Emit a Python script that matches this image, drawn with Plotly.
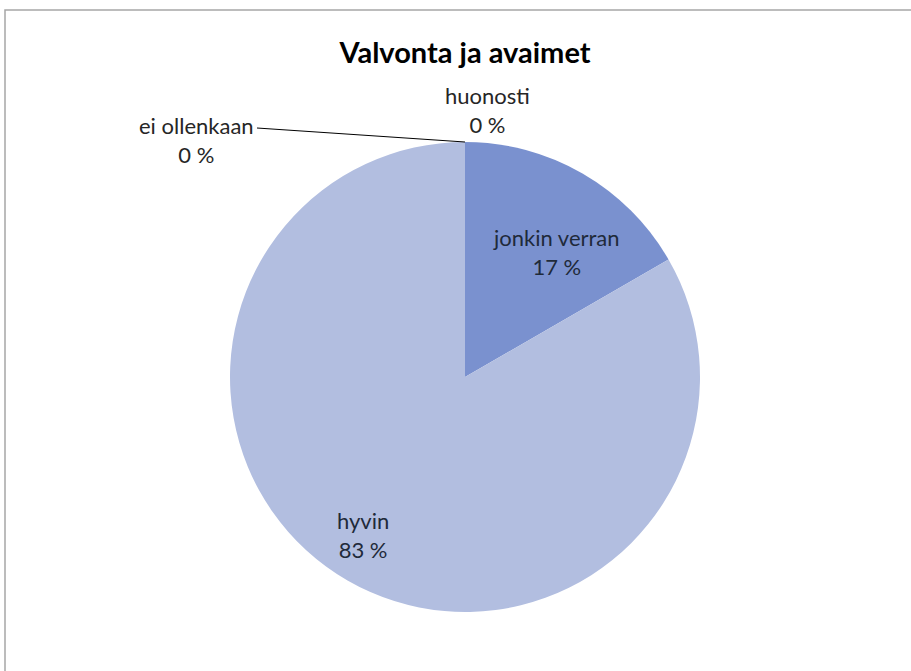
import math
import plotly.graph_objects as go

# Survey answers for "Valvonta ja avaimet"
labels = ["jonkin verran", "hyvin", "ei ollenkaan", "huonosti"]
counts = [1, 5, 0, 0]
colors = ["#7A91CF", "#B2BEE0", "#4F6FBF", "#9AAAD6"]

total = sum(counts)
pct_text = [f"{round(c / total * 100)} %" for c in counts]

W, H = 911, 671
cx, cy, r = 465, 377, 235
dom_x = [(cx - r) / W, (cx + r) / W]
dom_y = [(H - cy - r) / H, (H - cy + r) / H]

FONT = "Lato, Open Sans, sans-serif"
font = dict(family=FONT, size=22, color="#262626")

fig = go.Figure(go.Pie(
    labels=labels,
    values=counts,
    textinfo="none",
    sort=False,
    direction="clockwise",
    rotation=0,
    marker=dict(colors=colors, line=dict(width=0)),
    showlegend=False,
    hoverinfo="label+percent",
    domain=dict(x=dom_x, y=dom_y),
))

# Slice labels placed along each slice's mid-angle (clockwise from 12 o'clock)
label_place = {"jonkin verran": (0.66, 6), "hyvin": (0.80, 3)}
start = 0.0
for lab, c, p in zip(labels, counts, pct_text):
    sweep = c / total * 360
    if c > 0:
        frac, shift = label_place[lab]
        a = math.radians(start + sweep / 2 + shift)
        px = cx + frac * r * math.sin(a)
        py = cy - frac * r * math.cos(a)
        fig.add_annotation(x=px / W, y=(H - py) / H, xref="paper", yref="paper",
                           text=f"{lab}<br>{p}", showarrow=False,
                           xanchor="center", yanchor="middle", align="center",
                           font=dict(family=FONT, size=22, color="#1F2A3A"))
    start += sweep

# Labels of the empty categories at the top of the pie
zero = {l: p for l, p, c in zip(labels, pct_text, counts) if c == 0}
top_y = (H - cy + r) / H
fig.add_shape(type="line", xref="paper", yref="paper",
              x0=257 / W, y0=(H - 128) / H, x1=cx / W, y1=top_y,
              line=dict(color="#000000", width=1))
fig.add_annotation(
    x=256 / W, y=(H - 140) / H, xref="paper", yref="paper",
    text=f"ei ollenkaan<br>{zero['ei ollenkaan']}", showarrow=False,
    xanchor="right", yanchor="middle", align="center", font=font,
)
fig.add_annotation(
    x=487 / W, y=(H - 110) / H, xref="paper", yref="paper",
    text=f"huonosti<br>{zero['huonosti']}", showarrow=False,
    xanchor="center", yanchor="middle", align="center", font=font,
)

# Chart frame
fig.add_shape(type="rect", xref="paper", yref="paper",
              x0=5 / W, x1=1.01, y0=-0.01, y1=1 - 10 / H,
              line=dict(color="#A6A6A6", width=1.5), fillcolor="rgba(0,0,0,0)")

fig.update_layout(
    width=W, height=H,
    margin=dict(l=0, r=0, t=0, b=0),
    paper_bgcolor="white",
    title=dict(text="<b>Valvonta ja avaimet</b>", x=cx / W, xanchor="center",
               y=1 - 53 / H, yanchor="middle",
               font=dict(family=FONT, size=29, color="#000000")),
)

fig.write_html("out.html")
